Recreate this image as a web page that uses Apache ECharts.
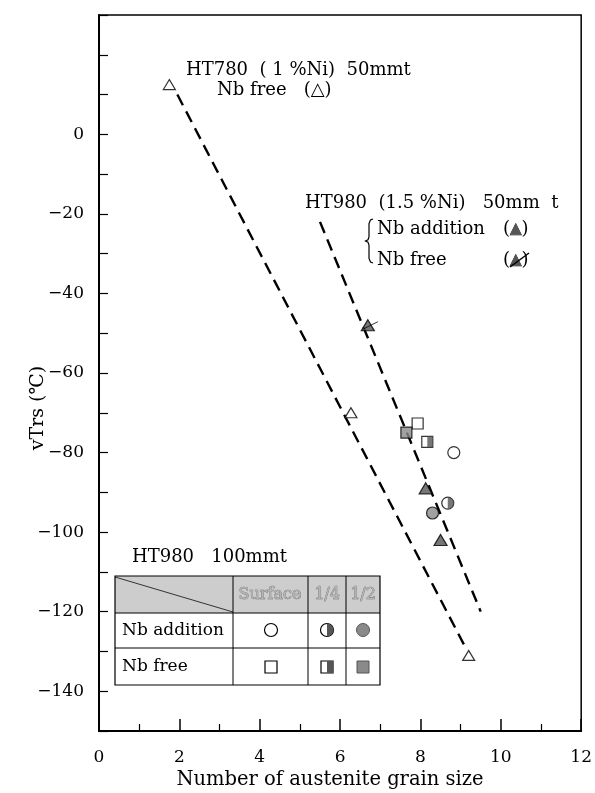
<!DOCTYPE html>
<html>
<head>
<meta charset="utf-8">
<script src="https://cdn.jsdelivr.net/npm/echarts@6/dist/echarts.min.js"></script>
<style>
  html, body { margin: 0; padding: 0; background: #fff; }
  #chart { width: 595px; height: 793px; }
</style>
</head>
<body>
<div id="chart"></div>
<script>
// HT780 (1%Ni) 50mmt, Nb free
var ht780Points = [[1.75, 12.5], [6.27, -70], [9.2, -131]]
var ht780Fit = [[1.95, 10], [9.12, -129]]
// HT980 (1.5%Ni) 50mm t
var ht980AddPoints = [[8.13, -89], [8.5, -102]]
var ht980FreePoints = [[6.69, -48]]
var ht980Fit = [[5.5, -22], [9.5, -120]]
// HT980 100mmt : surface, 1/4, 1/2
var addSurface = [[8.83, -80]]
var addQuarter = [[8.68, -92.7]]
var addHalf = [[8.3, -95.2]]
var freeSurface = [[7.93, -72.7]]
var freeQuarter = [[8.17, -77.3]]
var freeHalf = [[7.65, -75]]

var xTicks = [0, 2, 4, 6, 8, 10, 12]
var yTicks = [0, -20, -40, -60, -80, -100, -120, -140]

var serif = 'DejaVu Serif'
var gray = '#8a8a8a'
var dark = '#555'

function scatter (data, symbol, size, fill, extra) {
  var s = {
    type: 'scatter',
    data: data,
    symbol: symbol,
    symbolSize: size,
    itemStyle: { color: fill, borderColor: '#000', borderWidth: 1.2 },
    z: 5
  }
  for (var k in extra) s[k] = extra[k]
  return s
}

function dashed (data) {
  return {
    type: 'line',
    data: data,
    symbol: 'none',
    lineStyle: { color: '#000', width: 2.4, type: [12, 7] },
    z: 3
  }
}

function label (text, x, y, size, extra) {
  var st = { text: text, font: size + 'px ' + serif, fill: '#000', verticalAlign: 'middle' }
  for (var k in extra) st[k] = extra[k]
  return { type: 'text', x: x, y: y, style: st }
}

function hline (x1, x2, y) {
  return { type: 'line', shape: { x1: x1, y1: y, x2: x2, y2: y }, style: { stroke: '#000', lineWidth: 1 } }
}
function vline (x, y1, y2) {
  return { type: 'line', shape: { x1: x, y1: y1, x2: x, y2: y2 }, style: { stroke: '#000', lineWidth: 1 } }
}

var headStyle = { fill: '#b4b4b4', stroke: '#666', lineWidth: 0.6, align: 'center' }
var triRich = { rich: { t: { fill: dark, stroke: '#000', lineWidth: 0.6, font: '15px ' + serif } } }

var eR = echarts.init(document.getElementById('chart'))
var option = {
  animation: false,
  grid: {
    left: 99, right: 12, top: 15, bottom: 62,
    show: true, borderColor: '#000', borderWidth: 1.5
  },
  xAxis: {
    type: 'value', min: 0, max: 12, interval: 2,
    axisLine: { onZero: false, lineStyle: { color: '#000', width: 2 } },
    axisTick: { inside: true, length: 12, lineStyle: { color: '#000', width: 1.5 } },
    minorTick: { show: true, splitNumber: 2, length: 7, lineStyle: { color: '#000', width: 1.2 } },
    splitLine: { show: false },
    axisLabel: {
      margin: 18, color: '#000', fontFamily: serif, fontSize: 17,
      formatter: function (v) { return xTicks.indexOf(v) >= 0 ? String(v) : '' }
    }
  },
  yAxis: {
    type: 'value', min: -150, max: 30, interval: 10,
    axisLine: { onZero: false, lineStyle: { color: '#000', width: 2 } },
    axisTick: { inside: true, length: 9, lineStyle: { color: '#000', width: 1.2 } },
    splitLine: { show: false },
    axisLabel: {
      margin: 15, color: '#000', fontFamily: serif, fontSize: 17,
      formatter: function (v) {
        if (yTicks.indexOf(v) < 0) return ''
        return v < 0 ? '\u2212' + (-v) : String(v)
      }
    }
  },
  series: [
    dashed(ht780Fit),
    dashed(ht980Fit),
    scatter(ht780Points, 'triangle', [12, 10], '#fff'),
    scatter(ht980AddPoints, 'triangle', [13, 11], dark),
    scatter(ht980FreePoints, 'triangle', [13, 11], dark),
    scatter(ht980FreePoints, 'path://M0,10 L14,0 L14,1.6 L0,11.6 Z', [14, 8], '#000',
      { symbolOffset: [3, 0], itemStyle: { color: '#000' } }),
    scatter(addSurface, 'circle', 12, '#fff'),
    scatter(addQuarter, 'circle', 12, '#fff'),
    scatter(addQuarter, 'path://M0,0 A1,1 0 0,1 0,2 Z', [6, 12], dark,
      { symbolOffset: [3, 0], itemStyle: { color: dark } }),
    scatter(addHalf, 'circle', 12, gray),
    scatter(freeSurface, 'rect', 11, '#fff'),
    scatter(freeQuarter, 'rect', 11, '#fff'),
    scatter(freeQuarter, 'rect', [5.5, 11], dark,
      { symbolOffset: [2.75, 0], itemStyle: { color: dark } }),
    scatter(freeHalf, 'rect', 11, gray)
  ],
  graphic: [
    // axis names
    { type: 'text', x: 38, y: 408, rotation: Math.PI / 2,
      style: { text: 'vTrs (\u2103)', font: '19px ' + serif, fill: '#000', align: 'center', verticalAlign: 'middle' } },
    label('Number of austenite grain size', 330, 780, 19.5, { align: 'center' }),
    // HT780 annotation
    label('HT780  ( 1 %Ni)  50mmt', 186, 70, 18),
    label('Nb free   (\u25b3)', 217, 90, 18),
    // HT980 annotation
    label('HT980  (1.5 %Ni)   50mm  t', 305, 203, 18),
    label('Nb addition', 377, 229, 18),
    label('({t|\u25b2})', 503, 229, 18, triRich),
    label('Nb free', 377, 260, 18),
    label('({t|\u25b2})', 503, 260, 18, triRich),
    { type: 'line', shape: { x1: 510, y1: 267, x2: 529, y2: 253 }, style: { stroke: '#000', lineWidth: 1.5 } },
    { type: 'polyline',
      shape: { points: [[373, 219], [370.5, 220], [369, 223.5], [369, 237], [368, 239.8], [365.5, 241], [368, 242.2], [369, 245], [369, 258.5], [370.5, 262], [373, 263]] },
      style: { fill: 'none', stroke: '#000', lineWidth: 1.2 } },
    // HT980 100mmt table
    label('HT980   100mmt', 132, 557, 18),
    { type: 'rect', shape: { x: 115, y: 576, width: 265, height: 37 }, style: { fill: '#cdcdcd' } },
    { type: 'line', shape: { x1: 115, y1: 577, x2: 233, y2: 612 }, style: { stroke: '#333', lineWidth: 1 } },
    { type: 'rect', shape: { x: 115, y: 576, width: 265, height: 109 }, style: { fill: 'none', stroke: '#000', lineWidth: 1.2 } },
    hline(115, 380, 613),
    hline(115, 380, 648),
    vline(233, 576, 685),
    vline(308, 576, 685),
    vline(346, 576, 685),
    label('Surface', 270, 595, 16, headStyle),
    label('1/4', 327, 595, 16, headStyle),
    label('1/2', 363, 595, 16, headStyle),
    label('Nb addition', 122, 631, 17),
    label('Nb free', 122, 667, 17),
    { type: 'circle', shape: { cx: 271, cy: 630, r: 6.5 }, style: { fill: '#fff', stroke: '#000', lineWidth: 1.2 } },
    { type: 'circle', shape: { cx: 327, cy: 630, r: 6.5 }, style: { fill: '#fff', stroke: '#000', lineWidth: 1.2 } },
    { type: 'sector', shape: { cx: 327, cy: 630, r: 6.5, startAngle: -Math.PI / 2, endAngle: Math.PI / 2 }, style: { fill: dark } },
    { type: 'circle', shape: { cx: 363, cy: 630, r: 6.5 }, style: { fill: gray, stroke: '#555', lineWidth: 1 } },
    { type: 'rect', shape: { x: 265, y: 661, width: 12, height: 12 }, style: { fill: '#fff', stroke: '#000', lineWidth: 1.2 } },
    { type: 'rect', shape: { x: 321, y: 661, width: 12, height: 12 }, style: { fill: '#fff', stroke: '#000', lineWidth: 1.2 } },
    { type: 'rect', shape: { x: 327, y: 661, width: 6, height: 12 }, style: { fill: dark } },
    { type: 'rect', shape: { x: 357, y: 661, width: 12, height: 12 }, style: { fill: gray, stroke: '#555', lineWidth: 1 } }
  ]
}
eR.setOption(option)
</script>
</body>
</html>
